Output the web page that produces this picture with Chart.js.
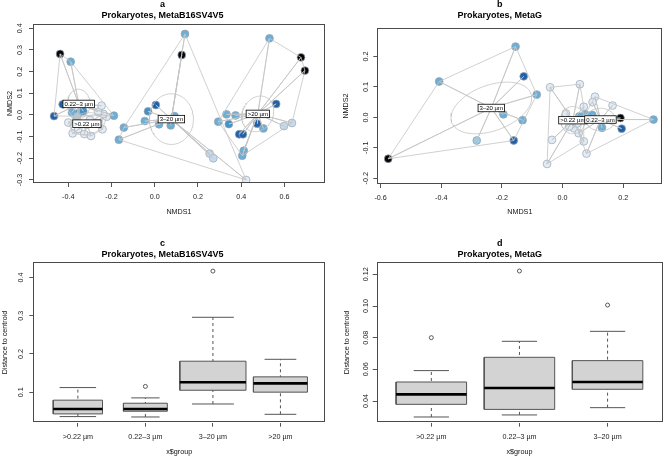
<!DOCTYPE html>
<html><head><meta charset="utf-8">
<script src="https://cdn.jsdelivr.net/npm/chart.js@4/dist/chart.umd.min.js"></script>
<style>
html,body{margin:0;padding:0;background:#fff;}
#wrap{position:relative;width:667px;height:458px;overflow:hidden;}
.p{position:absolute;}
canvas{display:block;}
</style></head><body>
<div id="wrap">
<div class="p" style="left:0;top:0;width:334px;height:229px"><canvas id="ca"></canvas></div>
<div class="p" style="left:334px;top:0;width:333px;height:229px"><canvas id="cb"></canvas></div>
<div class="p" style="left:0;top:229px;width:334px;height:229px"><canvas id="cc"></canvas></div>
<div class="p" style="left:334px;top:229px;width:333px;height:229px"><canvas id="cd"></canvas></div>
</div>
<script>
// ================= DATA =================
// Panel a : NMDS, Prokaryotes MetaB16SV4V5
const aGroupNames = ['>0.22 µm', '0.22–3 µm', '3–20 µm', '>20 µm'];
const aX = [-0.400,-0.380,-0.326,-0.295,-0.242,-0.222,-0.300,-0.272,-0.315,-0.354,-0.238,-0.366,
            -0.438,-0.389,-0.426,-0.466,-0.189,-0.383,-0.350,-0.331,-0.360,-0.262,-0.246,
             0.140, 0.125, 0.005,-0.031,-0.046, 0.020, 0.074, 0.092,-0.143,-0.166, 0.254, 0.271, 0.423,
             0.531, 0.677, 0.695, 0.562, 0.332, 0.374, 0.343, 0.294, 0.474, 0.503, 0.391, 0.408, 0.412, 0.405, 0.598, 0.635];
const aY = [-0.035,-0.085,-0.088,-0.097,-0.066,-0.008,-0.023,-0.038,-0.046,-0.065, 0.005,-0.008,
             0.282, 0.246, 0.049,-0.005,-0.003, 0.012, 0.010, 0.018,-0.005, 0.015, 0.043,
             0.374, 0.277, 0.046, 0.017,-0.028,-0.043,-0.048,-0.005,-0.058,-0.114,-0.178,-0.200,-0.300,
             0.354, 0.266, 0.205, 0.051, 0.003,-0.002,-0.042,-0.031,-0.040,-0.062,-0.089,-0.089,-0.165,-0.188,-0.051,-0.037];
const aGroup = [0,0,0,0,0,0,0,0,0,0,0,0,
                1,1,1,1,1,1,1,1,1,1,1,
                2,2,2,2,2,2,2,2,2,2,2,2,2,
                3,3,3,3,3,3,3,3,3,3,3,3,3,3,3,3];
const aShade = [0,0,0,0,0,0,0,0,0,0,0,0,
                6,3,5,5,3,3,4,4,2,0,0,
                3,6,5,4,3,3,3,3,3,3,1,1,0,
                3,6,6,5,3,3,4,3,5,3,5,5,3,3,1,1];
const aCentX = [-0.314,-0.352, 0.077, 0.477];
const aCentY = [-0.040, 0.051,-0.019, 0.005];
const aEllA = [0.075, 0.068, 0.117, 0.086];
const aEllB = [0.050, 0.052, 0.102, 0.070];
const aEllAng = [10, 90, 90, 60];
const aXTicks = [-0.4,-0.2,0.0,0.2,0.4,0.6];
const aYTicks = [-0.3,-0.2,-0.1,0.0,0.1,0.2,0.3,0.4];

// Panel b : NMDS, Prokaryotes MetaG
const bGroupNames = ['>0.22 µm', '0.22–3 µm', '3–20 µm'];
const bX = [-0.041, 0.057, 0.011, 0.038, 0.070,-0.035,-0.051, 0.022, 0.055, 0.048, 0.070,
             0.107, 0.099, 0.165, 0.098, 0.130, 0.300, 0.191, 0.195, 0.079, 0.053, 0.075,
            -0.155,-0.407,-0.128,-0.085,-0.195,-0.132,-0.161,-0.283,-0.575];
const bY = [ 0.099, 0.109, 0.013,-0.036,-0.079,-0.074,-0.153,-0.030, 0.003,-0.020, 0.035,
             0.068, 0.050, 0.039, 0.008,-0.034,-0.007,-0.002,-0.037,-0.119,-0.052, 0.010,
             0.233, 0.118, 0.135, 0.075, 0.010,-0.009,-0.076,-0.076,-0.136];
const bGroup = [0,0,0,0,0,0,0,0,0,0,0,
                1,1,1,1,1,1,1,1,1,1,1,
                2,2,2,2,2,2,2,2,2];
const bShade = [0,0,0,0,0,0,0,0,3,0,0,
                0,0,0,3,3,3,6,5,0,0,3,
                3,3,5,3,3,3,5,2,6];
const bCentX = [0.034, 0.125,-0.235];
const bCentY = [-0.009,-0.007, 0.031];
const bEllA = [0.045, 0.049, 0.139];
const bEllB = [0.040, 0.037, 0.075];
const bEllAng = [90, 0, 20];
const bXTicks = [-0.6,-0.4,-0.2,0.0,0.2];
const bYTicks = [-0.2,-0.1,0.0,0.1,0.2];

// Panel c : distance to centroid, MetaB16SV4V5
const cCats = ['>0.22 µm', '0.22–3 µm', '3–20 µm', '>20 µm'];
const cLo  = [0.036, 0.035, 0.069, 0.042];
const cQ1  = [0.043, 0.050, 0.105, 0.100];
const cMed = [0.056, 0.056, 0.126, 0.123];
const cQ3  = [0.079, 0.071, 0.181, 0.140];
const cHi  = [0.112, 0.085, 0.296, 0.186];
const cOut = [[], [0.115], [0.417], []];
const cYTicks = [0.1, 0.2, 0.3, 0.4];

// Panel d : distance to centroid, MetaG
const dCats = ['>0.22 µm', '0.22–3 µm', '3–20 µm'];
const dLo  = [0.0299, 0.0312, 0.0358];
const dQ1  = [0.0379, 0.0347, 0.0474];
const dMed = [0.0442, 0.0482, 0.0520];
const dQ3  = [0.0520, 0.0676, 0.0655];
const dHi  = [0.0592, 0.0777, 0.0840];
const dOut = [[0.0800], [0.1221], [0.1006]];
const dYTicks = [0.04, 0.06, 0.08, 0.10, 0.12];

// ================= STYLE =================
const FONT = '"Liberation Sans", Arial, Helvetica, sans-serif';
Chart.defaults.font.family = FONT;
Chart.defaults.color = '#222';
Chart.defaults.animation = false;
const SHADES = ['#e2ecf6', '#c6dbef', '#9ecae1', '#6baed6', '#4292c6', '#1f60a8', '#050505'];
const LINE = '#c4c4c4';
const BOX_W_C = [0.73, 0.65, 0.98, 0.80], CAP_W_C = [0.54, 0.42, 0.62, 0.47];
const BOX_W_D = [0.80, 0.80, 0.80], CAP_W_D = [0.40, 0.40, 0.40];

const framePlugin = {
  id: 'frame',
  afterDatasetsDraw(chart) {
    const {ctx, chartArea: a} = chart;
    ctx.save(); ctx.strokeStyle = '#4a4a4a'; ctx.lineWidth = 1;
    ctx.strokeRect(Math.round(a.left) + 0.5, Math.round(a.top) + 0.5,
                   Math.round(a.right - a.left) - 1, Math.round(a.bottom - a.top) - 1);
    ctx.restore();
  }
};
function labelPlugin(xs, ys, names) {
  return {
    id: 'grpLabels',
    afterDraw(chart) {
      const ctx = chart.ctx, sx = chart.scales.x, sy = chart.scales.y;
      ctx.save(); ctx.font = '6px ' + FONT; ctx.textAlign = 'center'; ctx.textBaseline = 'middle';
      names.forEach((t, i) => {
        const px = sx.getPixelForValue(xs[i]), py = sy.getPixelForValue(ys[i]);
        const w = ctx.measureText(t).width + 3, h = 7.5;
        ctx.fillStyle = '#fff'; ctx.fillRect(px - w / 2, py - h / 2, w, h);
        ctx.strokeStyle = '#000'; ctx.lineWidth = 0.8; ctx.strokeRect(px - w / 2, py - h / 2, w, h);
        ctx.fillStyle = '#000'; ctx.fillText(t, px, py + 0.4);
      });
      ctx.restore();
    }
  };
}
function scaleCfg(o) {
  return {
    type: 'linear', min: o.min, max: o.max,
    afterBuildTicks: s => { s.ticks = o.ticks.map(v => ({value: v})); },
    afterFit: s => { if (o.y) s.width = o.size; else s.height = o.size; },
    ticks: Object.assign({autoSkip: false, callback: o.fmt, font: {size: 7.2, lineHeight: 1.2}, color: '#222', padding: o.pad},
      o.y ? {minRotation: 90, maxRotation: 90, crossAlign: 'center'} : {maxRotation: 0, minRotation: 0}),
    grid: {display: true, drawOnChartArea: false, drawTicks: true, tickLength: 4, color: '#555', tickColor: '#555', tickWidth: 1},
    border: {display: false},
    title: {display: true, text: o.title, color: '#111', font: {size: 7.2, lineHeight: 1.2},
            padding: o.y ? {top: o.tpad, bottom: 0} : {top: 0, bottom: o.tpad}}
  };
}
function hull(pts) {
  pts = pts.slice().sort((p, q) => p.x - q.x || p.y - q.y);
  const cr = (o, a, b) => (a.x - o.x) * (b.y - o.y) - (a.y - o.y) * (b.x - o.x);
  const lo = [], up = [];
  for (const p of pts) { while (lo.length >= 2 && cr(lo[lo.length - 2], lo[lo.length - 1], p) <= 0) lo.pop(); lo.push(p); }
  for (let i = pts.length - 1; i >= 0; i--) { const p = pts[i]; while (up.length >= 2 && cr(up[up.length - 2], up[up.length - 1], p) <= 0) up.pop(); up.push(p); }
  up.pop(); lo.pop(); const h = lo.concat(up); h.push(h[0]); return h;
}
function lineDs(data, extra) {
  return Object.assign({data, showLine: true, borderColor: LINE, borderWidth: 0.8, pointRadius: 0, pointHitRadius: 0, tension: 0, fill: false, order: 2}, extra || {});
}
function nmdsChart(id, d) {
  const datasets = [];
  const pts = d.x.map((x, i) => ({x, y: d.y[i]}));
  d.names.forEach((n, g) => {
    const gp = pts.filter((p, i) => d.group[i] === g);
    const c = {x: d.cx[g], y: d.cy[g]};
    datasets.push(lineDs(hull(gp)));
    const sp = [c]; gp.forEach(p => { sp.push(p); sp.push(c); });
    datasets.push(lineDs(sp));
    const el = [], th = d.ang[g] * Math.PI / 180;
    for (let k = 0; k <= 96; k++) {
      const t = k / 96 * 2 * Math.PI, u = d.ea[g] * Math.cos(t), v = d.eb[g] * Math.sin(t);
      el.push({x: c.x + u * Math.cos(th) - v * Math.sin(th), y: c.y + u * Math.sin(th) + v * Math.cos(th)});
    }
    datasets.push(lineDs(el));
  });
  datasets.push({data: pts, showLine: false, order: 10, pointRadius: 3.9, pointHoverRadius: 3.9,
    pointBackgroundColor: d.shade.map(s => SHADES[s]),
    pointBorderColor: d.shade.map(s => s <= 1 ? '#a3adb8' : 'rgba(150,160,175,0.9)'), pointBorderWidth: 0.8});
  return new Chart(document.getElementById(id), {
    type: 'scatter', data: {datasets},
    plugins: [framePlugin, labelPlugin(d.cx, d.cy, d.names)],
    options: {
      responsive: true, maintainAspectRatio: false, events: [],
      layout: {padding: {left: 0, right: d.padR, top: 0, bottom: 0}},
      plugins: {legend: {display: false}, tooltip: {enabled: false},
        title: {display: true, text: d.title, color: '#000', font: {size: 9, weight: 'bold', lineHeight: 11 / 9}, padding: d.titlePad}},
      scales: {x: scaleCfg(d.xs), y: scaleCfg(d.ys)}
    }
  });
}
function boxChart(id, d) {
  const datasets = [];
  const GR = '#555';
  d.cats.forEach((c, i) => {
    const x = i + 1, hw = d.bw[i] / 2, cw = d.cw[i] / 2;
    datasets.push(lineDs([{x, y: d.lo[i]}, {x, y: d.hi[i]}], {borderColor: GR, borderWidth: 1, borderDash: [3, 3], order: 5}));
    datasets.push(lineDs([{x: x - cw, y: d.lo[i]}, {x: x + cw, y: d.lo[i]}], {borderColor: GR, borderWidth: 1, order: 5}));
    datasets.push(lineDs([{x: x - cw, y: d.hi[i]}, {x: x + cw, y: d.hi[i]}], {borderColor: GR, borderWidth: 1, order: 5}));
    datasets.push(lineDs([{x: x - hw, y: d.q1[i]}, {x: x + hw, y: d.q1[i]}, {x: x + hw, y: d.q3[i]}, {x: x - hw, y: d.q3[i]}, {x: x - hw, y: d.q1[i]}],
      {borderColor: GR, borderWidth: 1, fill: 'shape', backgroundColor: '#d3d3d3', order: 4}));
    datasets.push(lineDs([{x: x - hw, y: d.med[i]}, {x: x + hw, y: d.med[i]}], {borderColor: '#000', borderWidth: 2.6, order: 3}));
  });
  const outPts = [];
  d.out.forEach((arr, i) => arr.forEach(v => outPts.push({x: i + 1, y: v})));
  datasets.push({data: outPts, showLine: false, order: 1, pointRadius: 2, pointBackgroundColor: 'rgba(0,0,0,0)', pointBorderColor: '#333', pointBorderWidth: 0.8});
  const n = d.cats.length;
  return new Chart(document.getElementById(id), {
    type: 'scatter', data: {datasets},
    plugins: [framePlugin],
    options: {
      responsive: true, maintainAspectRatio: false, events: [],
      layout: {padding: {left: 0, right: d.padR, top: 0, bottom: 0}},
      plugins: {legend: {display: false}, tooltip: {enabled: false},
        title: {display: true, text: d.title, color: '#000', font: {size: 9, weight: 'bold', lineHeight: 11 / 9}, padding: d.titlePad}},
      scales: {
        x: scaleCfg({min: 0.5 - 0.04 * n, max: n + 0.5 + 0.04 * n, ticks: d.cats.map((c, i) => i + 1), fmt: v => d.cats[Math.round(v) - 1],
                     pad: 6, title: 'x$group', tpad: 1.7, size: 35.3}),
        y: scaleCfg(Object.assign({y: true, title: 'Distance to centroid', size: d.ysize}, d.ys))
      }
    }
  });
}
const f1 = v => v.toFixed(1), f2 = v => v.toFixed(2);

nmdsChart('ca', {x: aX, y: aY, group: aGroup, shade: aShade, names: aGroupNames, cx: aCentX, cy: aCentY,
  ea: aEllA, eb: aEllB, ang: aEllAng, title: ['a', 'Prokaryotes, MetaB16SV4V5'], titlePad: {top: -1, bottom: 3}, padR: 9,
  xs: {min: -0.5634, max: 0.788, ticks: aXTicks, fmt: f1, pad: 5.7, title: 'NMDS1', tpad: 12.8, size: 46},
  ys: {y: true, min: -0.314, max: 0.420, ticks: aYTicks, fmt: f1, pad: 2.4, title: 'NMDS2', tpad: 5.5, size: 33}});
nmdsChart('cb', {x: bX, y: bY, group: bGroup, shade: bShade, names: bGroupNames, cx: bCentX, cy: bCentY,
  ea: bEllA, eb: bEllB, ang: bEllAng, title: ['b', 'Prokaryotes, MetaG'], titlePad: {top: -1, bottom: 7}, padR: 1.3,
  xs: {min: -0.611, max: 0.329, ticks: bXTicks, fmt: f1, pad: 5.7, title: 'NMDS1', tpad: 12.2, size: 45},
  ys: {y: true, min: -0.219, max: 0.294, ticks: bYTicks, fmt: f1, pad: 1.4, title: 'NMDS2', tpad: 7.4, size: 43.3}});
boxChart('cc', {cats: cCats, lo: cLo, q1: cQ1, med: cMed, q3: cQ3, hi: cHi, out: cOut, bw: BOX_W_C, cw: CAP_W_C,
  title: ['c', 'Prokaryotes, MetaB16SV4V5'], titlePad: {top: 8.8, bottom: 2.5}, padR: 9, ysize: 33.3,
  ys: {min: 0.02, max: 0.44, ticks: cYTicks, fmt: f1, pad: 3.6, tpad: 0.7}});
boxChart('cd', {cats: dCats, lo: dLo, q1: dQ1, med: dMed, q3: dQ3, hi: dHi, out: dOut, bw: BOX_W_D, cw: CAP_W_D,
  title: ['d', 'Prokaryotes, MetaG'], titlePad: {top: 8.8, bottom: 2.5}, padR: 1.3, ysize: 42.7,
  ys: {min: 0.0263, max: 0.1276, ticks: dYTicks, fmt: f2, pad: 0, tpad: 9}});
</script>
</body></html>
